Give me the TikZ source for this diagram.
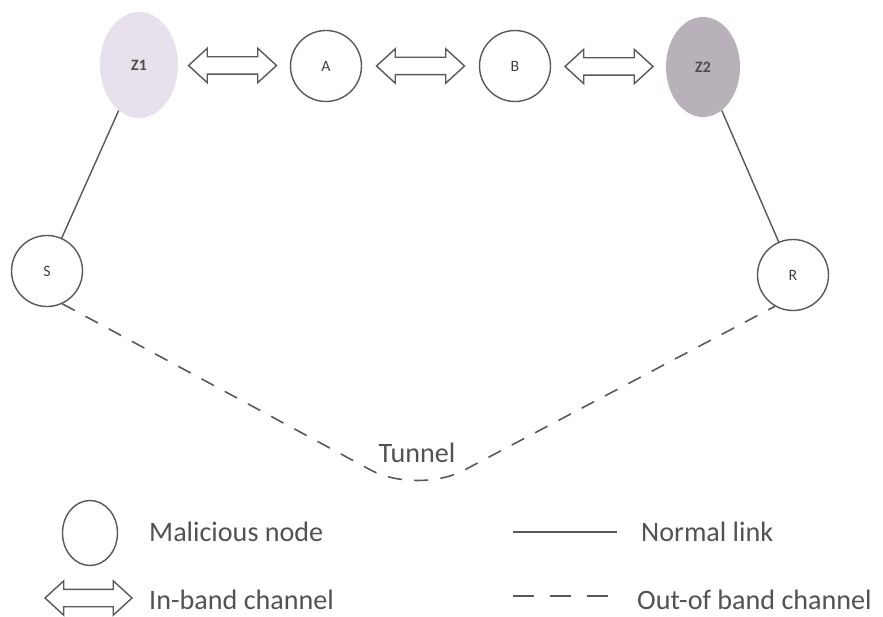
\documentclass[tikz,border=0pt]{standalone}
\usepackage{fontspec}
\setmainfont{Carlito}
\usetikzlibrary{calc,shapes.geometric,shapes.arrows}
\tikzset{>=latex}
\colorlet{linegray}{black!65}
\colorlet{textgray}{black!68}
\definecolor{zonelight}{HTML}{E8E0EC}
\definecolor{zonedark}{HTML}{B9B1BA}
\tikzset{
    peer/.style={circle,draw=linegray,line width=0.8pt,minimum size=1.42cm,inner sep=0pt,font=\fontsize{9}{10}\selectfont,text=black!75},
    zone/.style={ellipse,inner sep=0pt,font=\fontsize{9}{10}\selectfont\bfseries,text=black!70},
    inband/.style={double arrow,draw=linegray,fill=white,line width=0.8pt,minimum height=1.76cm,minimum width=0pt,inner xsep=0pt,inner ysep=0.16cm,double arrow head extend=0.17cm,double arrow tip angle=85},
    link/.style={draw=linegray,line width=0.8pt},
    tunnel/.style={draw=linegray,line width=0.9pt,dash pattern=on 8pt off 7pt},
    legendtext/.style={anchor=west,font=\fontsize{16}{18}\selectfont,text=textgray}
}

\begin{document}
\begin{tikzpicture}
    \useasboundingbox[fill=white] (0,0) rectangle (17.66,12.32);

    % the chain between the two colluding nodes
    \node[zone,fill=zonelight,minimum width=1.56cm,minimum height=2.12cm] (z1) at (2.78,11.02) {Z1};
    \node[peer] (a) at (6.52,11.0) {A};
    \node[peer] (b) at (10.3,11.0) {B};
    \node[zone,fill=zonedark,minimum width=1.48cm,minimum height=2.0cm] (z2) at (14.06,10.98) {Z2};
    \foreach \u/\v in {z1/a,a/b,b/z2}
        \node[inband] (\u\v) at ($(\u)!0.5!(\v)$) {};

    % source and receiver
    \node[peer] (s) at (0.94,6.9) {S};
    \node[peer] (r) at (15.86,6.82) {R};
    \draw[link] (z1) -- (s);
    \draw[link] (z2) -- (r);

    % out-of-band tunnel
    \coordinate (dip) at (8.34,2.42);
    \draw[tunnel,rounded corners=30pt] (s.-65) -- (dip) -- (r.-120);
    \node[font=\fontsize{16}{18}\selectfont,text=textgray] (tunnel) at (8.34,3.26) {Tunnel};

    % legend
    \node[ellipse,draw=linegray,line width=0.8pt,minimum width=1.1cm,minimum height=1.3cm,inner sep=0pt] (keyzone) at (1.8,1.66) {};
    \node[legendtext] (keyzonetext) at (2.86,1.68) {Malicious node};
    \node[inband,minimum height=1.74cm] (keyinband) at (1.77,0.36) {};
    \node[legendtext] (keyinbandtext) at (2.86,0.32) {In-band channel};
    \coordinate (keylinkA) at (10.26,1.68);
    \coordinate (keylinkB) at (12.34,1.68);
    \draw[link] (keylinkA) -- (keylinkB);
    \node[legendtext] (keylinktext) at (12.7,1.68) {Normal link};
    \coordinate (keyoobA) at (10.26,0.4);
    \coordinate (keyoobB) at (12.34,0.4);
    \draw[link,dash pattern=on 12pt off 9pt] (keyoobA) -- (keyoobB);
    \node[legendtext] (keyoobtext) at (12.62,0.32) {Out-of band channel};
\end{tikzpicture}
\end{document}
